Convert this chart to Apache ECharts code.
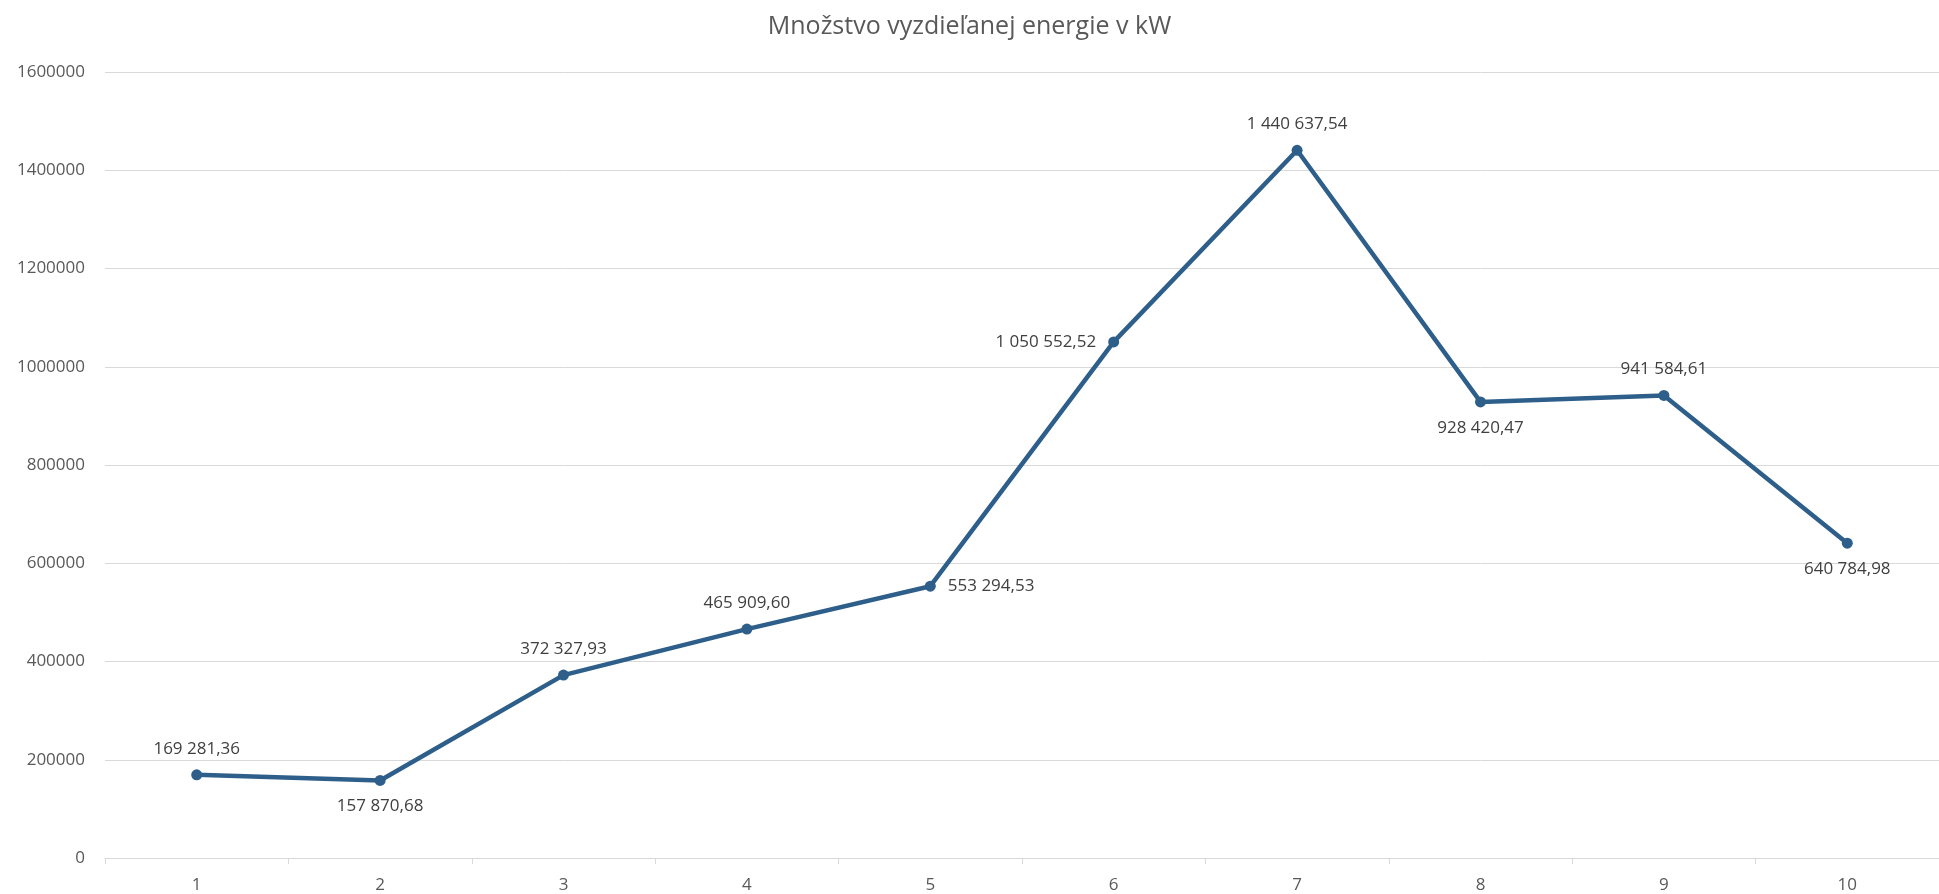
<!DOCTYPE html>
<html>
<head>
<meta charset="utf-8">
<script src="https://cdn.jsdelivr.net/npm/echarts@6/dist/echarts.min.js"></script>
<style>
  html, body { margin: 0; padding: 0; background: #fff; }
  #chart { width: 1939px; height: 894px; }
</style>
</head>
<body>
<div id="chart"></div>
<script>
const categories = ['1', '2', '3', '4', '5', '6', '7', '8', '9', '10']
const energy = [169281.36, 157870.68, 372327.93, 465909.60, 553294.53, 1050552.52, 1440637.54, 928420.47, 941584.61, 640784.98]
// where each value label sits, as in the original
const labelPos = ['top', 'bottom', 'top', 'top', 'right', 'left', 'top', 'bottom', 'top', 'bottom']

function fmt(v) {
  const parts = v.toFixed(2).split('.')
  return parts[0].replace(/\B(?=(\d{3})+(?!\d))/g, ' ') + ',' + parts[1]
}

const chart = echarts.init(document.getElementById('chart'))
const font = '"Open Sans", sans-serif'

chart.setOption({
  animation: false,
  title: {
    text: 'Množstvo vyzdieľanej energie v kW',
    left: 'center',
    top: 9,
    textStyle: { fontFamily: font, fontSize: 25, fontWeight: 'normal', color: '#595959' }
  },
  grid: { left: 105, right: -20, top: 72, bottom: 36 },
  xAxis: {
    type: 'category',
    data: categories,
    boundaryGap: true,
    axisLine: { lineStyle: { color: '#d9d9d9', width: 1 } },
    axisTick: { show: true, length: 6, lineStyle: { color: '#d9d9d9' } },
    axisLabel: { fontFamily: font, fontSize: 17, color: '#595959', margin: 19 }
  },
  yAxis: {
    type: 'value',
    min: 0,
    max: 1600000,
    interval: 200000,
    axisLine: { show: false },
    axisTick: { show: false },
    splitLine: { lineStyle: { color: '#d9d9d9', width: 1 } },
    axisLabel: { fontFamily: font, fontSize: 17, color: '#595959', margin: 20, formatter: v => String(v) }
  },
  series: [{
    type: 'line',
    data: energy.map((v, i) => ({
      value: v,
      label: { position: labelPos[i] }
    })),
    symbol: 'circle',
    symbolSize: 11,
    lineStyle: { color: '#2e5f8a', width: 4.5 },
    itemStyle: { color: '#2e5f8a' },
    label: {
      show: true,
      distance: 12,
      fontFamily: font,
      fontSize: 17,
      color: '#404040',
      formatter: p => fmt(p.value)
    }
  }]
})
</script>
</body>
</html>
